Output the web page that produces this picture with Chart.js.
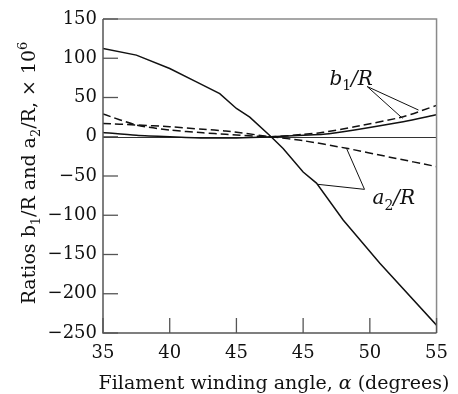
<!DOCTYPE html>
<html>
<head>
<meta charset="utf-8">
<script src="https://cdn.jsdelivr.net/npm/chart.js@4"></script>
<style>
  html, body { margin: 0; padding: 0; background: #fff; }
  canvas { display: block; }
</style>
</head>
<body>
<canvas id="chart" width="458" height="394"></canvas>
<script>
// tick labels along the x axis (evenly spaced, as printed)
const xTickLabels = ['35', '40', '45', '45', '50', '55'];

// a2/R, solid (steep)
const a2SolidX = [0, 0.5, 1, 1.4, 1.75, 2, 2.2, 2.52, 2.7, 3, 3.2, 3.6, 4.15, 5];
const a2SolidY = [112.5, 104, 87, 70, 55, 36, 25, 0, -15, -45, -59, -106, -161, -240];

// a2/R, dashed
const a2DashX = [0, 0.5, 1, 1.5, 1.84, 2.52, 3, 3.65, 4.3, 5];
const a2DashY = [17, 15, 12.8, 9.5, 7.3, 0, -5, -14.7, -26, -38];

// b1/R, solid
const b1SolidX = [0, 0.5, 1, 1.5, 2, 2.52, 3, 3.3, 3.77, 4.5, 5];
const b1SolidY = [5.5, 2, 0, -1.5, -1.5, 0, 2, 3.1, 8.6, 19, 28];

// b1/R, dashed
const b1DashX = [0, 0.5, 1, 1.5, 1.84, 2.52, 3, 3.3, 3.77, 4.5, 5];
const b1DashY = [29, 15, 8.6, 5, 3.1, 0, 3, 5.6, 12.8, 25.5, 40];

const toPoints = (xs, ys) => xs.map((x, i) => ({ x: x, y: ys[i] }));

const SERIF = '"DejaVu Serif", "Liberation Serif", serif';
const INK = '#111';

// draw a line of text made of pieces, some italic / subscript / superscript
function drawRich(ctx, parts, cx, cy, size) {
  const fontFor = (p) => {
    const small = p.sub || p.sup;
    const s = small ? Math.round(size * 0.68) : size;
    return (p.it ? 'italic ' : '') + s + 'px ' + SERIF;
  };
  let total = 0;
  parts.forEach(p => { ctx.font = fontFor(p); p.w = ctx.measureText(p.t).width; total += p.w; });
  let x = cx - total / 2;
  const base = cy + size * 0.35;
  ctx.textAlign = 'left';
  ctx.textBaseline = 'alphabetic';
  parts.forEach(p => {
    ctx.font = fontFor(p);
    let y = base;
    if (p.sub) y += size * 0.28;
    if (p.sup) y -= size * 0.42;
    ctx.fillText(p.t, x, y);
    x += p.w;
  });
}

const decorations = {
  id: 'decorations',
  beforeDatasetsDraw(chart) {
    const { ctx, chartArea: a, scales: { y } } = chart;
    ctx.save();
    // zero line
    ctx.strokeStyle = '#333';
    ctx.lineWidth = 1;
    const y0 = Math.round(y.getPixelForValue(0)) + 0.5;
    ctx.beginPath();
    ctx.moveTo(a.left, y0);
    ctx.lineTo(a.right, y0);
    ctx.stroke();
    ctx.restore();
  },
  afterDatasetsDraw(chart) {
    const { ctx, chartArea: a, scales: { x, y } } = chart;
    ctx.save();
    // frame
    ctx.lineWidth = 1.5;
    ctx.strokeStyle = '#8a8a8a';
    ctx.beginPath();
    ctx.moveTo(a.left, a.top);
    ctx.lineTo(a.right, a.top);
    ctx.lineTo(a.right, a.bottom);
    ctx.stroke();
    ctx.strokeStyle = '#555';
    ctx.beginPath();
    ctx.moveTo(a.left, a.top);
    ctx.lineTo(a.left, a.bottom);
    ctx.lineTo(a.right, a.bottom);
    ctx.stroke();

    // inward tick marks
    ctx.lineWidth = 1.3;
    ctx.strokeStyle = '#555';
    y.ticks.forEach(t => {
      const py = y.getPixelForValue(t.value);
      ctx.beginPath();
      ctx.moveTo(a.left, py);
      ctx.lineTo(a.left + 15, py);
      ctx.stroke();
    });
    x.ticks.forEach(t => {
      const px = x.getPixelForValue(t.value);
      ctx.beginPath();
      ctx.moveTo(px, a.bottom);
      ctx.lineTo(px, a.bottom - 15);
      ctx.stroke();
    });

    // leader lines for the curve labels
    ctx.strokeStyle = INK;
    ctx.lineWidth = 1;
    const P = (u, v) => [x.getPixelForValue(u), y.getPixelForValue(v)];
    const leader = (from, tos) => {
      tos.forEach(to => {
        ctx.beginPath();
        ctx.moveTo(from[0], from[1]);
        ctx.lineTo(to[0], to[1]);
        ctx.stroke();
      });
    };
    leader(P(3.96, 64), [P(4.73, 34), P(4.49, 23.5)]);
    leader(P(3.92, -67), [P(3.65, -14.7), P(3.22, -60.6)]);

    ctx.fillStyle = INK;
    const lb = P(3.72, 75);
    drawRich(ctx, [{ t: 'b', it: true }, { t: '1', sub: true }, { t: '/R', it: true }], lb[0], lb[1], 20);
    const la = P(4.36, -77);
    drawRich(ctx, [{ t: 'a', it: true }, { t: '2', sub: true }, { t: '/R', it: true }], la[0], la[1], 20);

    // axis titles
    drawRich(ctx, [{ t: 'Filament winding angle, ' }, { t: 'α', it: true }, { t: ' (degrees)' }],
      274, 382, 19);

    ctx.translate(28, 173);
    ctx.rotate(-Math.PI / 2);
    drawRich(ctx, [
      { t: 'Ratios b' }, { t: '1', sub: true }, { t: '/R and a' }, { t: '2', sub: true },
      { t: '/R, × 10' }, { t: '6', sup: true }
    ], 0, 0, 19);
    ctx.restore();
  }
};

const lineStyle = (dash) => ({
  borderColor: INK,
  borderWidth: 1.5,
  borderDash: dash,
  pointRadius: 0,
  fill: false,
  tension: 0.25
});

new Chart(document.getElementById('chart'), {
  type: 'line',
  data: {
    datasets: [
      { label: 'a2/R solid', data: toPoints(a2SolidX, a2SolidY), ...lineStyle([]), tension: 0 },
      { label: 'a2/R dashed', data: toPoints(a2DashX, a2DashY), ...lineStyle([8, 4]) },
      { label: 'b1/R solid', data: toPoints(b1SolidX, b1SolidY), ...lineStyle([]) },
      { label: 'b1/R dashed', data: toPoints(b1DashX, b1DashY), ...lineStyle([8, 4]) }
    ]
  },
  options: {
    responsive: false,
    animation: false,
    layout: { padding: { left: 0, top: 19, right: 10, bottom: 0 } },
    plugins: { legend: { display: false }, tooltip: { enabled: false } },
    scales: {
      x: {
        type: 'linear',
        min: 0,
        max: 5,
        afterFit: (s) => { s.height = 61; },
        grid: { display: false, drawTicks: false },
        border: { display: false },
        ticks: {
          stepSize: 1,
          padding: 10,
          color: INK,
          font: { family: SERIF, size: 18 },
          maxRotation: 0,
          callback: (v) => xTickLabels[v]
        }
      },
      y: {
        min: -250,
        max: 150,
        afterFit: (s) => { s.width = 103; },
        grid: { display: false, drawTicks: false },
        border: { display: false },
        ticks: {
          stepSize: 50,
          padding: 6,
          color: INK,
          font: { family: SERIF, size: 18 },
          callback: (v) => (v < 0 ? '\u2212' + Math.abs(v) : String(v))
        }
      }
    }
  },
  plugins: [decorations]
});
</script>
</body>
</html>
